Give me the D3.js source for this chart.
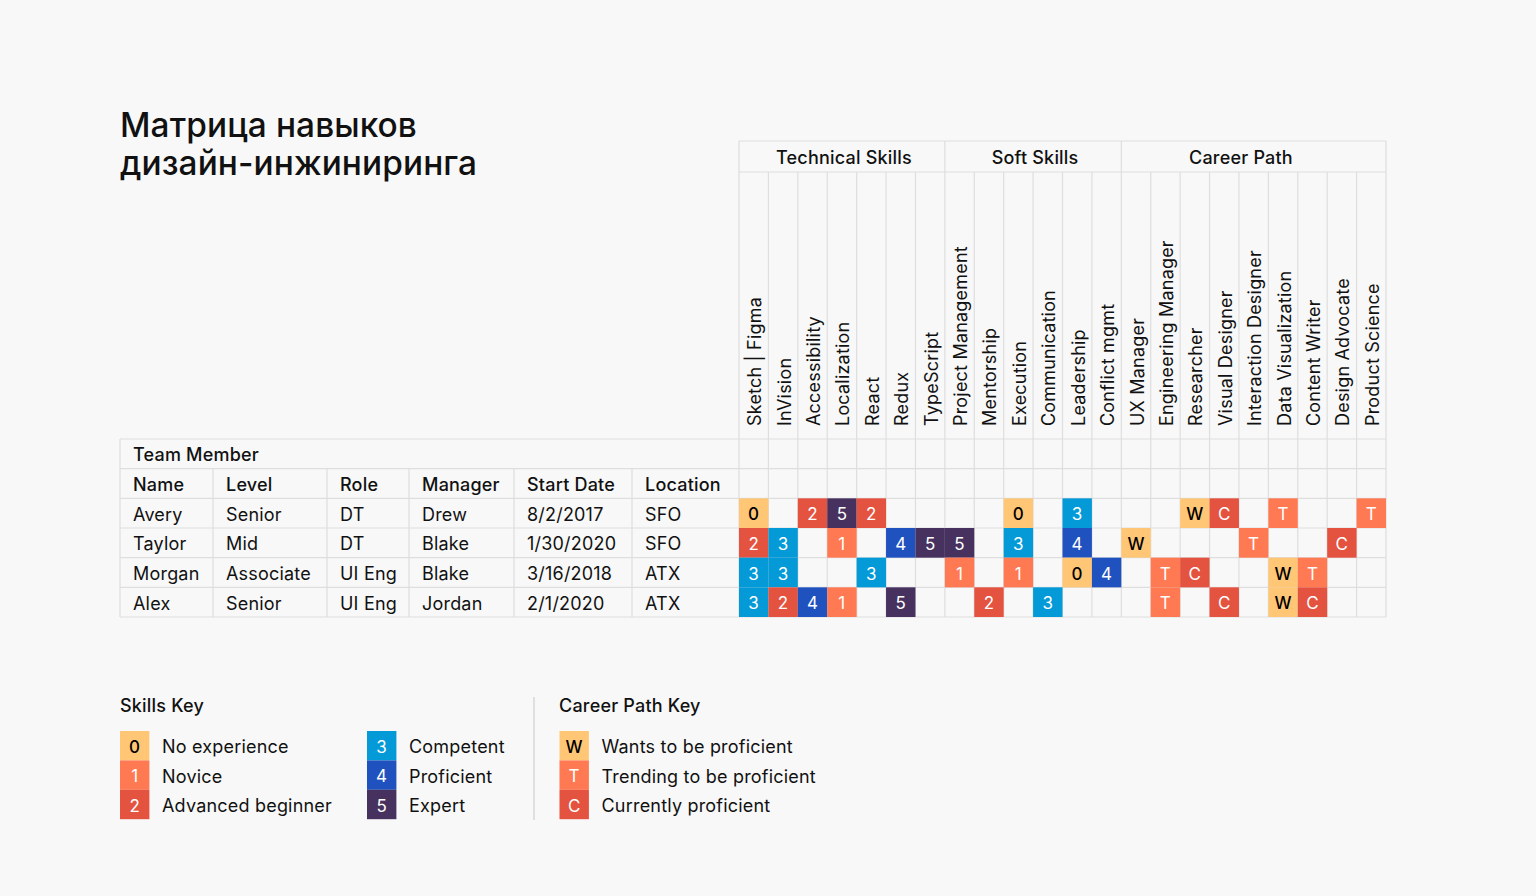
<!DOCTYPE html>
<html>
<head>
<meta charset="utf-8">
<script src="https://cdn.jsdelivr.net/npm/d3@7"></script>
<style>
  html, body { margin: 0; padding: 0; background: #f8f8f8; }
  svg { display: block; font-family: Inter, "Noto Sans", sans-serif; letter-spacing: 0.2px; }
</style>
</head>
<body>
<svg id="chart" width="1536" height="896"></svg>
<script>
// ---------- DATA ----------
const titleLines = ["Матрица навыков", "дизайн-инжиниринга"];
const groupNames = ["Technical Skills", "Soft Skills", "Career Path"];
const groupSizes = [7, 6, 9];
const skills = ["Sketch | Figma", "InVision", "Accessibility", "Localization", "React", "Redux", "TypeScript",
  "Project Management", "Mentorship", "Execution", "Communication", "Leadership", "Conflict mgmt",
  "UX Manager", "Engineering Manager", "Researcher", "Visual Designer", "Interaction Designer",
  "Data Visualization", "Content Writer", "Design Advocate", "Product Science"];
const infoHeaders = ["Name", "Level", "Role", "Manager", "Start Date", "Location"];
const names = ["Avery", "Taylor", "Morgan", "Alex"];
const levels = ["Senior", "Mid", "Associate", "Senior"];
const roles = ["DT", "DT", "UI Eng", "UI Eng"];
const managers = ["Drew", "Blake", "Blake", "Jordan"];
const startDates = ["8/2/2017", "1/30/2020", "3/16/2018", "2/1/2020"];
const locations = ["SFO", "SFO", "ATX", "ATX"];
const _ = null;
const averyRatings  = [0, _, 2, 5, 2, _, _,  _, _, 0, _, 3, _,  _, _, "W", "C", _, "T", _, _, "T"];
const taylorRatings = [2, 3, _, 1, _, 4, 5,  5, _, 3, _, 4, _,  "W", _, _, _, "T", _, _, "C", _];
const morganRatings = [3, 3, _, _, 3, _, _,  1, _, 1, _, 0, 4,  _, "T", "C", _, _, "W", "T", _, _];
const alexRatings   = [3, 2, 4, 1, _, 5, _,  _, 2, _, 3, _, _,  _, "T", _, "C", _, "W", "C", _, _];
const skillKeyCodes = [0, 1, 2, 3, 4, 5];
const skillKeyLabels = ["No experience", "Novice", "Advanced beginner", "Competent", "Proficient", "Expert"];
const careerKeyCodes = ["W", "T", "C"];
const careerKeyLabels = ["Wants to be proficient", "Trending to be proficient", "Currently proficient"];

// ---------- STYLE ----------
const codeColors = { 0: "#FFC775", 1: "#FF7953", 2: "#E4533F", 3: "#0499D7", 4: "#1F52BF", 5: "#47325F",
                     W: "#FFC775", T: "#FF7953", C: "#E4533F" };
const darkText = new Set(["0", "W"]);
const gridColor = "#dedede";
const textColor = "#111";

const svg = d3.select("#chart");
const ratings = [averyRatings, taylorRatings, morganRatings, alexRatings];
const infoCols = [names, levels, roles, managers, startDates, locations];

// ---------- LAYOUT ----------
const gridLeft = 739, gridRight = 1386;
const x = d3.scaleBand().domain(d3.range(skills.length)).range([gridLeft, gridRight]);
const rowKeys = ["team", "head"].concat(names.map((d, i) => "r" + i));
const y = d3.scaleBand().domain(rowKeys).range([439, 617]);
const infoX = d3.scaleOrdinal().domain(d3.range(6)).range([120, 213, 327, 409, 514, 632]);
const infoEdges = [120, 213, 327, 409, 514, 632, 739];
const groupTop = 141, groupBottom = 172;
const groupLabelSpan = [7, 6, 8]; // columns over which each group title is centred

// title
svg.append("g").selectAll("text").data(titleLines).join("text")
  .attr("x", 120).attr("y", (d, i) => 137 + i * 38)
  .attr("font-size", 33.4).attr("font-weight", 500).attr("fill", textColor).attr("letter-spacing", 0.1)
  .text(d => d);

const grid = svg.append("g").attr("stroke", gridColor).attr("stroke-width", 1.2).attr("fill", "none");

// colored cells
const cells = [];
ratings.forEach((arr, r) => arr.forEach((v, c) => { if (v !== null) cells.push({ r, c, v }); }));
svg.append("g").selectAll("rect").data(cells).join("rect")
  .attr("x", d => x(d.c)).attr("y", d => y("r" + d.r))
  .attr("width", x.bandwidth()).attr("height", y.bandwidth())
  .attr("fill", d => codeColors[d.v]);

// horizontal lines
d3.range(rowKeys.length + 1).forEach(i => {
  const yy = y.range()[0] + i * y.bandwidth();
  grid.append("line").attr("x1", 120).attr("x2", gridRight).attr("y1", yy).attr("y2", yy);
});
grid.append("line").attr("x1", gridLeft).attr("x2", gridRight).attr("y1", groupTop).attr("y2", groupTop);
grid.append("line").attr("x1", gridLeft).attr("x2", gridRight).attr("y1", groupBottom).attr("y2", groupBottom);
// vertical lines for skill columns
d3.range(skills.length + 1).forEach(i => {
  const xx = gridLeft + i * x.bandwidth();
  grid.append("line").attr("x1", xx).attr("x2", xx).attr("y1", (i === 0 || i === skills.length) ? groupTop : groupBottom).attr("y2", 617);
});
// group dividers + titles
let acc = 0;
groupSizes.forEach((n, gi) => {
  if (gi > 0) {
    const xx = gridLeft + acc * x.bandwidth();
    grid.append("line").attr("x1", xx).attr("x2", xx).attr("y1", groupTop).attr("y2", groupBottom);
  }
  svg.append("text")
    .attr("x", gridLeft + (acc + groupLabelSpan[gi] / 2) * x.bandwidth() + 2).attr("y", (groupTop + groupBottom) / 2 + 1)
    .attr("text-anchor", "middle").attr("dominant-baseline", "central")
    .attr("font-size", 18).attr("font-weight", 500).attr("fill", textColor)
    .text(groupNames[gi]);
  acc += n;
});
// left table verticals
grid.append("line").attr("x1", 120).attr("x2", 120).attr("y1", 439).attr("y2", 617);
infoEdges.slice(1, 6).forEach(xx => {
  grid.append("line").attr("x1", xx).attr("x2", xx).attr("y1", 469).attr("y2", 617);
});

// rotated skill labels
svg.append("g").selectAll("text").data(skills).join("text")
  .attr("transform", (d, i) => `translate(${x(i) + x.bandwidth() / 2 + 1},426) rotate(-90)`)
  .attr("text-anchor", "start").attr("dominant-baseline", "central")
  .attr("font-size", 18).attr("fill", textColor)
  .text(d => d);

// "Team Member"
svg.append("text").attr("x", 133).attr("y", y("team") + y.bandwidth() / 2 + 1)
  .attr("dominant-baseline", "central").attr("font-size", 18).attr("font-weight", 500).attr("fill", textColor)
  .text("Team Member");
// info headers
svg.append("g").selectAll("text").data(infoHeaders).join("text")
  .attr("x", (d, i) => infoX(i) + 13).attr("y", y("head") + y.bandwidth() / 2 + 1)
  .attr("dominant-baseline", "central").attr("font-size", 18).attr("font-weight", 500).attr("fill", textColor)
  .text(d => d);
// info values
infoCols.forEach((col, ci) => {
  svg.append("g").selectAll("text").data(col).join("text")
    .attr("x", infoX(ci) + 13).attr("y", (d, r) => y("r" + r) + y.bandwidth() / 2 + 1)
    .attr("dominant-baseline", "central").attr("font-size", 18).attr("fill", textColor)
    .text(d => d);
});
// cell labels
svg.append("g").selectAll("text").data(cells).join("text")
  .attr("x", d => x(d.c) + x.bandwidth() / 2).attr("y", d => y("r" + d.r) + y.bandwidth() / 2 + 1)
  .attr("text-anchor", "middle").attr("dominant-baseline", "central")
  .attr("font-size", 17).attr("font-weight", d => darkText.has(String(d.v)) ? 500 : 400)
  .attr("fill", d => darkText.has(String(d.v)) ? "#000" : "#fff")
  .text(d => d.v);

// ---------- LEGENDS ----------
const sw = 29.4;
function legend(gx, gy, codes, labels) {
  const g = svg.append("g");
  g.selectAll("rect").data(codes).join("rect")
    .attr("x", gx).attr("y", (d, i) => gy + i * sw).attr("width", sw).attr("height", sw)
    .attr("fill", d => codeColors[d]);
  g.selectAll("text.code").data(codes).join("text").attr("class", "code")
    .attr("x", gx + sw / 2).attr("y", (d, i) => gy + i * sw + sw / 2 + 1)
    .attr("text-anchor", "middle").attr("dominant-baseline", "central").attr("font-size", 17)
    .attr("font-weight", d => darkText.has(String(d)) ? 500 : 400)
    .attr("fill", d => darkText.has(String(d)) ? "#000" : "#fff").text(d => d);
  g.selectAll("text.lab").data(labels).join("text").attr("class", "lab")
    .attr("x", gx + 42).attr("y", (d, i) => gy + i * sw + sw / 2 + 1)
    .attr("dominant-baseline", "central").attr("font-size", 18).attr("fill", textColor).text(d => d);
}
svg.append("text").attr("x", 120).attr("y", 712).attr("font-size", 18).attr("font-weight", 500).attr("fill", textColor).text("Skills Key");
legend(120, 731, skillKeyCodes.slice(0, 3), skillKeyLabels.slice(0, 3));
legend(367, 731, skillKeyCodes.slice(3), skillKeyLabels.slice(3));
svg.append("line").attr("x1", 534).attr("x2", 534).attr("y1", 697).attr("y2", 820).attr("stroke", "#cfcfcf").attr("stroke-width", 1.2);
svg.append("text").attr("x", 559).attr("y", 712).attr("font-size", 18).attr("font-weight", 500).attr("fill", textColor).text("Career Path Key");
legend(559.5, 731, careerKeyCodes, careerKeyLabels);
</script>
</body>
</html>
